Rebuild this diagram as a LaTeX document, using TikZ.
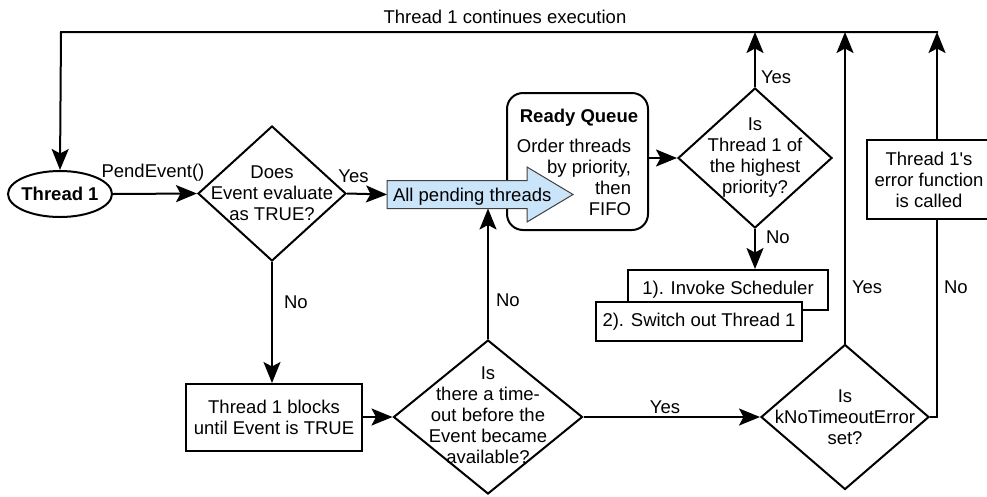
\documentclass[tikz,border=0pt]{standalone}
\usepackage{fontspec}
\setmainfont{Liberation Sans}
\usetikzlibrary{shapes.geometric,arrows.meta,calc}
\definecolor{paleblue}{RGB}{202,228,250}
\newcommand\dfont{\fontsize{18.5}{21}\selectfont}
\begin{document}
\begin{tikzpicture}[x=1pt,y=-1pt,font=\dfont,line width=2pt,
  >={Stealth[length=21pt,width=17pt,inset=4.5pt]},
  plain/.style={draw,rectangle,fill=white,inner sep=0pt,align=center},
  dia/.style={draw,diamond,inner sep=0pt,fill=white},
  txt/.style={align=center,inner sep=0pt,font=\dfont},
  lbl/.style={inner sep=0pt,font=\dfont}]
\useasboundingbox (0,0) rectangle (987,496);

% bus coordinates
\coordinate (busL) at (61,32);
\coordinate (busR) at (938,32);

% nodes
\node[draw,ellipse,minimum width=104pt,minimum height=46pt,inner sep=0pt,
  label={[txt,font=\dfont\bfseries]center:Thread 1}] (t1) at (60,194) {};
\node[dia,minimum width=148pt,minimum height=135pt,
  label={[txt]center:Does\\Event evaluate\\as TRUE?}] (d1) at (272,193.5) {};
\node[draw,rounded corners=16pt,minimum width=141pt,minimum height=137pt,inner sep=0pt,
  label={[txt,yshift=-3pt,xshift=-3.5pt]center:{\begin{tabular}{@{}r@{}}\multicolumn{1}{@{}c@{}}{\makebox[0pt]{\hspace*{10pt}\bfseries Ready Queue}}\\[9pt]Order threads\\by priority,\\then\\FIFO\end{tabular}}}] (rq) at (577.5,161.5) {};

% blue arrow shape
\coordinate (apL) at (387,194.5);
\draw[line width=1pt,draw=black!75,fill=paleblue]
  ($(apL)+(0,-14)$) -- ($(apL)+(140,-14)$) -- ($(apL)+(140,-27.5)$) -- ($(apL)+(186,0)$)
  -- ($(apL)+(140,27.5)$) -- ($(apL)+(140,14)$) -- ($(apL)+(0,14)$) -- cycle;
\node[anchor=west,inner xsep=6pt,inner ysep=0pt,outer sep=0pt,minimum height=28pt,
  text height=13.3pt,text depth=0pt] (ap) at (apL) {All pending threads};

\node[dia,minimum width=154pt,minimum height=140pt,
  label={[txt]center:Is\\Thread 1 of\\the highest\\priority?}] (d2) at (755,158) {};
\node[plain,minimum width=124pt,minimum height=79pt] (err) at (929,179.5) {Thread 1\textquotesingle s\\error function\\is called};
\coordinate (errT) at ([xshift=8pt]err.north);
\coordinate (errB) at ([xshift=8pt]err.south);

\node[plain,minimum width=200pt,minimum height=40pt] (inv) at (728,290) {1). Invoke Scheduler};
\node[plain,minimum width=206pt,minimum height=39pt] (sw) at (699,321.5) {2). Switch out Thread 1};

\node[plain,minimum width=176pt,minimum height=67pt] (blk) at (274,417.5) {Thread 1 blocks\\until Event is TRUE};
\node[dia,minimum width=189pt,minimum height=154pt,
  label={[txt,yshift=2pt]center:Is\\there a time-\\out before the\\Event became\\available?}] (d3) at (488,417) {};
\node[dia,minimum width=168pt,minimum height=145pt,
  label={[txt]center:Is\\kNoTimeoutError\\set?}] (d4) at (845,417) {};

% connectors
\draw[->] (busR) -- (busL) -- (t1.north);
\draw[->] (t1.east) -- (d1.west);
\draw[->] (d1.east) -- (ap.west);
\draw[->] (d1.south) -- (d1.south |- blk.north);
\draw[->] (blk.east |- d3.west) -- (d3.west);
\draw[->] (d3.north) -- (d3.north |- ap.south);
\draw[->] (d3.east) -- (d4.west);
\draw[->] (rq.east |- d2.west) -- (d2.west);
\draw[->] (d2.north) -- (d2.north |- busL);
\draw[->] (d2.south) -- (d2.south |- inv.north);
\draw[->] (d4.north) -- (d4.north |- busL);
\draw (d4.east) -- (d4.east -| errB) -- (errB);
\draw[->] (errT) -- (errT |- busL);

% labels
\node[lbl,anchor=base] (lcont) at (505,23.5) {Thread 1 continues execution};
\node[lbl,anchor=base] (lpend) at (153,177) {PendEvent()};
\node[lbl,anchor=base] (lyes1) at (353.5,182) {Yes};
\node[lbl,anchor=base west] (lno1) at (283,308) {No};
\node[lbl,anchor=base west] (lno3) at (495,306) {No};
\node[lbl,anchor=base] (lyes3) at (665,413) {Yes};
\node[lbl,anchor=base west] (lyes2) at (760,83) {Yes};
\node[lbl,anchor=base west] (lno2) at (765,243) {No};
\node[lbl,anchor=base west] (lyes4) at (851,293) {Yes};
\node[lbl,anchor=base west] (lno4) at (943,293) {No};
\end{tikzpicture}
\end{document}
